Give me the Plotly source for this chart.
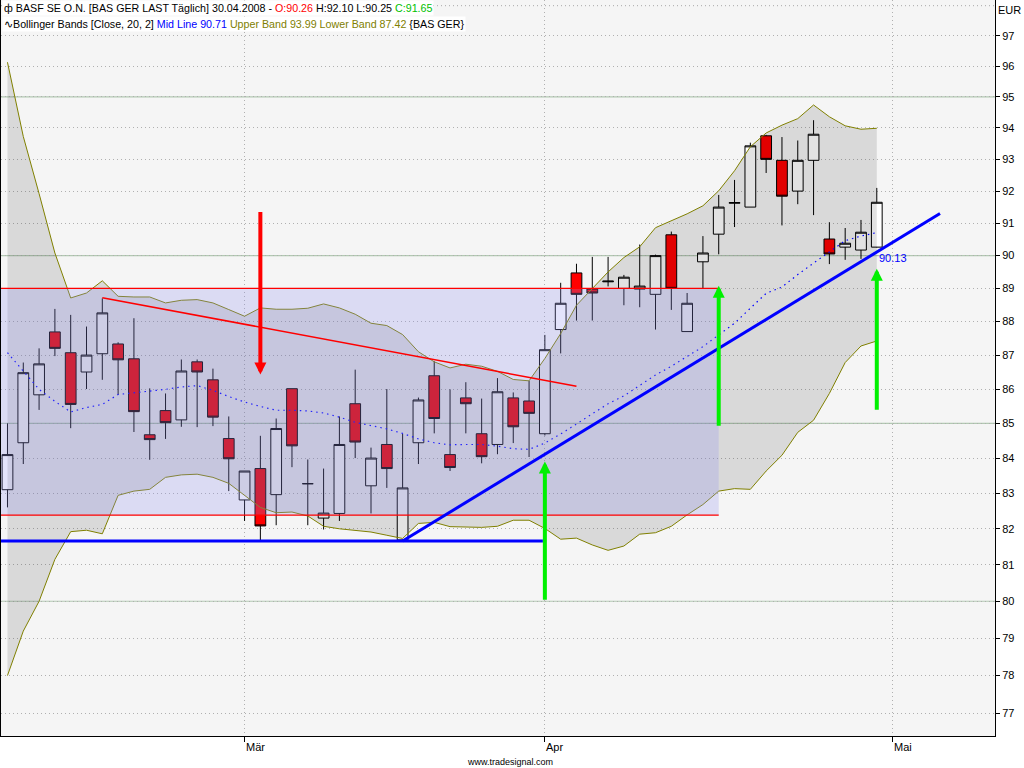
import math
import plotly.graph_objects as go

# ---------------- data ----------------
dates = [
    "2008-02-11", "2008-02-12", "2008-02-13", "2008-02-14", "2008-02-15",
    "2008-02-18", "2008-02-19", "2008-02-20", "2008-02-21", "2008-02-22",
    "2008-02-25", "2008-02-26", "2008-02-27", "2008-02-28", "2008-02-29",
    "2008-03-03", "2008-03-04", "2008-03-05", "2008-03-06", "2008-03-07",
    "2008-03-10", "2008-03-11", "2008-03-12", "2008-03-13", "2008-03-14",
    "2008-03-17", "2008-03-18", "2008-03-19", "2008-03-20", "2008-03-25",
    "2008-03-26", "2008-03-27", "2008-03-28", "2008-03-31", "2008-04-01",
    "2008-04-02", "2008-04-03", "2008-04-04", "2008-04-07", "2008-04-08",
    "2008-04-09", "2008-04-10", "2008-04-11", "2008-04-14", "2008-04-15",
    "2008-04-16", "2008-04-17", "2008-04-18", "2008-04-21", "2008-04-22",
    "2008-04-23", "2008-04-24", "2008-04-25", "2008-04-28", "2008-04-29",
    "2008-04-30",
]
opens = [83.10, 84.44, 85.83, 87.69, 87.07, 86.50, 87.04, 87.33, 86.89, 84.67,
         85.37, 85.10, 86.80, 86.27, 84.56, 82.81, 83.70, 82.96, 86.01, 83.27,
         82.30, 82.43, 85.57, 83.21, 84.39, 81.69, 84.44, 86.39, 84.10, 85.74,
         84.70, 84.39, 85.74, 85.65, 84.70, 87.76, 89.47, 88.98, 89.20, 89.00,
         88.98, 88.82, 90.64, 87.70, 89.81, 90.66, 91.62, 91.50, 93.75, 92.97,
         92.00, 92.97, 90.51, 90.26, 90.17, 90.26]
highs = [85.00, 86.78, 87.20, 88.38, 88.20, 87.85, 88.70, 87.38, 88.10, 86.02,
         85.87, 86.87, 86.87, 86.60, 85.20, 83.63, 84.64, 85.14, 86.01, 83.96,
         83.70, 85.20, 86.57, 84.30, 86.00, 84.70, 85.75, 86.82, 85.99, 86.20,
         85.72, 86.32, 85.90, 86.24, 87.60, 89.17, 89.75, 89.96, 89.96, 89.41,
         90.34, 90.03, 90.74, 88.86, 90.60, 91.88, 92.35, 93.53, 93.78, 93.71,
         93.60, 94.25, 91.03, 90.85, 91.10, 92.10]
lows = [82.60, 83.83, 85.39, 86.97, 84.86, 86.00, 86.27, 85.83, 84.75, 83.95,
        84.55, 84.90, 84.89, 84.92, 83.06, 82.22, 81.67, 82.10, 83.74, 82.10,
        81.98, 82.22, 84.00, 82.43, 83.15, 81.65, 83.83, 84.71, 83.63, 84.71,
        83.85, 84.11, 84.43, 84.03, 84.65, 87.05, 88.03, 88.03, 89.06, 88.49,
        88.43, 87.76, 88.35, 87.70, 89.00, 90.04, 90.88, 91.50, 92.57, 90.93,
        91.59, 91.25, 89.74, 89.87, 89.90, 90.25]
closes = [84.10, 86.48, 86.74, 87.20, 85.55, 87.00, 88.26, 86.86, 85.34, 84.53,
          85.02, 86.53, 86.50, 85.18, 83.98, 83.63, 82.08, 84.85, 84.35, 83.27,
          82.44, 84.39, 84.46, 84.00, 83.70, 83.15, 85.68, 85.14, 83.73, 85.57,
          84.04, 85.92, 84.90, 85.29, 87.16, 88.55, 88.82, 88.86, 89.22, 89.34,
          89.07, 90.00, 89.00, 88.55, 90.08, 91.50, 91.64, 93.43, 93.00, 91.84,
          92.97, 93.80, 90.05, 90.38, 90.72, 91.65]
upper_band = [96.13, 93.73, 91.92, 90.08, 88.71, 88.86, 89.23, 88.76, 88.74, 88.74,
              88.56, 88.64, 88.66, 88.56, 88.36, 88.16, 88.41, 88.37, 88.37, 88.40,
              88.53, 88.41, 88.22, 87.95, 87.88, 87.61, 87.10, 86.80, 86.62, 86.73,
              86.67, 86.52, 86.28, 86.24, 86.90, 87.64, 88.49, 88.99, 89.50, 89.94,
              90.27, 90.86, 91.07, 91.29, 91.54, 92.01, 92.64, 93.40, 93.84, 94.09,
              94.30, 94.74, 94.36, 94.07, 93.96, 93.99]
mid_line = [87.07, 86.52, 85.99, 85.64, 85.33, 85.46, 85.55, 85.84, 85.90, 85.94,
            85.99, 86.06, 86.10, 85.96, 85.78, 85.62, 85.49, 85.38, 85.38, 85.36,
            85.30, 85.18, 85.03, 84.94, 84.84, 84.71, 84.55, 84.44, 84.38, 84.39,
            84.39, 84.34, 84.27, 84.25, 84.43, 84.69, 84.98, 85.28, 85.57, 85.80,
            86.10, 86.41, 86.67, 86.97, 87.25, 87.60, 87.95, 88.40, 88.85, 89.04,
            89.42, 89.77, 90.12, 90.46, 90.60, 90.71]
lower_band = [78.00, 79.19, 80.00, 81.15, 81.92, 81.96, 81.86, 82.94, 83.06, 83.11,
              83.45, 83.52, 83.54, 83.45, 83.28, 82.94, 82.60, 82.45, 82.47, 82.36,
              82.07, 82.00, 81.96, 81.91, 81.82, 81.73, 82.15, 82.18, 82.06, 82.04,
              82.04, 82.07, 82.24, 82.24, 82.01, 81.71, 81.74, 81.55, 81.40, 81.52,
              81.85, 81.89, 82.07, 82.39, 82.68, 83.06, 83.13, 83.11, 83.63, 84.08,
              84.74, 85.09, 85.87, 86.78, 87.27, 87.42]
price_ticks = list(range(77, 98))
month_ticks = ["2008-03-03", "2008-04-01", "2008-05-01"]
month_labels = ["Mär", "Apr", "Mai"]
holidays = ["2008-03-21", "2008-03-24"]

# ---------------- figure ----------------
x = [d + " 12:00" for d in dates]
xt = [d + " 12:00" for d in month_ticks]
X_START = "2008-02-11 02:10"
X_END = "2008-05-09 23:30"
Y_MIN, Y_MAX = 76.41, 98.19

OLIVE = "#808000"
FONT = "Liberation Sans"

fig = go.Figure()
fig.add_trace(go.Scatter(x=x, y=lower_band, mode="lines",
                         line=dict(color=OLIVE, width=1), hoverinfo="skip"))
fig.add_trace(go.Scatter(x=x, y=upper_band, mode="lines", fill="tonexty",
                         fillcolor="rgba(0,0,0,0.115)",
                         line=dict(color=OLIVE, width=1), hoverinfo="skip"))
fig.add_trace(go.Scatter(x=x, y=mid_line, mode="lines",
                         line=dict(color="#0000ff", width=1.2, dash="1.5px,4px"),
                         hoverinfo="skip"))
fig.add_trace(go.Candlestick(
    x=x, open=opens, high=highs, low=lows, close=closes,
    increasing=dict(line=dict(color="black", width=1), fillcolor="white"),
    decreasing=dict(line=dict(color="black", width=1), fillcolor="#ff0000"),
    whiskerwidth=0,
))

shapes = []
# solid reference lines
for v in [80, 85, 90, 95]:
    shapes.append(dict(type="line", xref="paper", x0=0, x1=1, yref="y", y0=v, y1=v,
                       line=dict(color="#b2c9b2", width=1.2), layer="below"))
shapes.append(dict(type="line", xref="paper", x0=0, x1=1, yref="y", y0=98, y1=98,
                   line=dict(color="#a8a8a8", width=1, dash="1px,3px"), layer="below"))
# trading range box
shapes.append(dict(type="rect", xref="x", yref="y", x0=X_START, x1="2008-04-16 12:00",
                   y0=82.38, y1=89.0, fillcolor="rgba(145,145,241,0.25)",
                   line=dict(width=0), layer="above"))
shapes.append(dict(type="line", xref="x", yref="y", x0=X_START, x1="2008-04-16 12:00",
                   y0=89.0, y1=89.0, line=dict(color="#ff0000", width=1.3), layer="above"))
shapes.append(dict(type="line", xref="x", yref="y", x0=X_START, x1="2008-04-16 12:00",
                   y0=82.38, y1=82.38, line=dict(color="#ff0000", width=1.3), layer="above"))
# red falling trend line
shapes.append(dict(type="line", xref="x", yref="y", x0="2008-02-19 12:00", y0=88.72,
                   x1="2008-04-03 12:00", y1=86.08,
                   line=dict(color="#ff0000", width=1.5), layer="above"))
# blue support line
shapes.append(dict(type="line", xref="x", yref="y", x0=X_START, y0=81.66,
                   x1="2008-04-01 09:00", y1=81.66,
                   line=dict(color="#0000ff", width=3), layer="above"))
# blue rising trend line
shapes.append(dict(type="line", xref="x", yref="y", x0="2008-03-17 12:00", y0=81.66,
                   x1="2008-05-06 12:00", y1=91.30,
                   line=dict(color="#0000ff", width=3), layer="above"))

L = math.log10
annotations = []


def arrow(xd, tip, tail, color):
    return dict(x=xd, y=L(tip), xref="x", yref="y", ax=xd, ay=L(tail),
                axref="x", ayref="y", text="", showarrow=True, arrowhead=2,
                arrowsize=0.6, arrowwidth=4, arrowcolor=color, standoff=0)


annotations.append(arrow("2008-03-04 12:00", 86.43, 91.39, "#ff0000"))
annotations.append(arrow("2008-04-01 12:00", 83.90, 80.00, "#00f000"))
annotations.append(arrow("2008-04-16 12:00", 89.08, 84.89, "#00f000"))
annotations.append(arrow("2008-04-30 12:00", 89.60, 85.35, "#00f000"))

annotations.append(dict(x="2008-04-30 12:00", y=L(89.92), xref="x", yref="y",
                        text="90.13", showarrow=False, xanchor="left", yanchor="middle",
                        font=dict(family=FONT, size=11, color="#0000ff")))

for t, lab in zip(xt, month_labels):
    annotations.append(dict(x=t, y=0, xref="x", yref="paper", text=lab,
                            showarrow=False, xanchor="left", yanchor="top",
                            xshift=-1, yshift=-3,
                            font=dict(family=FONT, size=11, color="black")))

annotations.append(dict(x=1, y=1, xref="paper", yref="paper", text="EUR",
                        showarrow=False, xanchor="left", yanchor="top",
                        xshift=1, yshift=-2,
                        font=dict(family=FONT, size=11, color="black")))
annotations.append(dict(x=0.5116, y=0, xref="paper", yref="paper",
                        text="www.tradesignal.com", showarrow=False,
                        xanchor="center", yanchor="middle", yshift=-26,
                        font=dict(family=FONT, size=9, color="black")))

line1 = ("ф BASF SE O.N. [BAS GER LAST Täglich] 30.04.2008 - "
         "<span style='color:#ff0000'>O:90.26</span> H:92.10 L:90.25 "
         "<span style='color:#00c000'>C:91.65</span>")
line2 = ("∿Bollinger Bands [Close, 20, 2] "
         "<span style='color:#0000ff'>Mid Line 90.71</span> "
         "<span style='color:#808000'>Upper Band 93.99 Lower Band 87.42</span> {BAS GER}")
annotations.append(dict(x=0, y=1, xref="paper", yref="paper", text=line1,
                        showarrow=False, xanchor="left", yanchor="top",
                        xshift=1, yshift=0, bgcolor="white", borderpad=1,
                        font=dict(family=FONT, size=10.7, color="black")))
annotations.append(dict(x=0, y=1, xref="paper", yref="paper", text=line2,
                        showarrow=False, xanchor="left", yanchor="top",
                        xshift=1, yshift=-16, bgcolor="white", borderpad=1,
                        font=dict(family=FONT, size=10.7, color="black")))

fig.update_layout(
    width=1024, height=768,
    margin=dict(l=1, r=29, t=0, b=32, pad=0),
    paper_bgcolor="white", plot_bgcolor="#f5f5f5",
    showlegend=False, hovermode=False,
    boxgap=0.32, boxgroupgap=0,
    shapes=shapes, annotations=annotations,
    font=dict(family=FONT, size=11, color="black"),
    xaxis=dict(
        type="date", range=[X_START, X_END],
        rangebreaks=[dict(bounds=["sat", "mon"]), dict(values=holidays)],
        rangeslider=dict(visible=False),
        tickmode="array", tickvals=xt, showticklabels=False,
        ticks="outside", ticklen=5, tickcolor="black", tickwidth=1,
        showgrid=True, gridcolor="#b0b0b0", griddash="1px,3px", gridwidth=1,
        showline=True, linecolor="black", linewidth=1, zeroline=False,
    ),
    yaxis=dict(
        type="log", range=[math.log10(Y_MIN), math.log10(Y_MAX)], side="right",
        tickmode="array", tickvals=price_ticks, ticktext=[str(v) for v in price_ticks],
        ticks="outside", ticklen=4, tickcolor="black", tickwidth=1,
        tickfont=dict(family=FONT, size=11, color="black"),
        showgrid=True, gridcolor="#b0b0b0", griddash="1px,3px", gridwidth=1,
        showline=True, mirror=True, linecolor="black", linewidth=1, zeroline=False,
    ),
)

fig.write_html("out.html", config={"displayModeBar": False},
               post_script="document.body.style.margin='0';")
